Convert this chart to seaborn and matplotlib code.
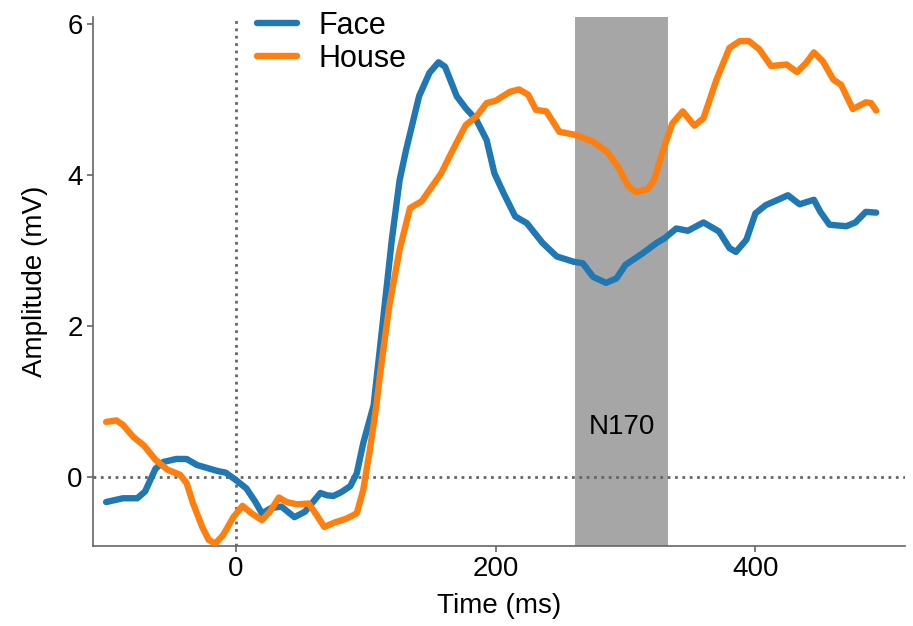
import numpy as np
import pandas as pd
import seaborn as sns
import matplotlib
matplotlib.use("Agg")
import matplotlib.pyplot as plt

# ERP values (time in ms, amplitude in mV)
face_t = [-100, -87, -76, -70, -62, -56, -46, -38, -30, -22, -14, -8, 0, 8, 15, 20, 27, 35, 45,
          53, 65, 70, 75, 81, 88, 93, 98, 106, 113, 120, 126, 131, 141, 149, 156, 161, 170, 177,
          185, 193, 199, 206, 215, 224, 236, 247, 260, 267, 275, 285, 293, 300, 313, 324, 330,
          339, 348, 360, 372, 380, 385, 393, 400, 408, 416, 425, 434, 445, 450, 457, 470, 477,
          485, 493]
face_v = [-0.33, -0.28, -0.28, -0.19, 0.11, 0.20, 0.24, 0.24, 0.16, 0.12, 0.08, 0.06, -0.04,
          -0.15, -0.33, -0.48, -0.41, -0.39, -0.53, -0.46, -0.21, -0.24, -0.25, -0.2, -0.12, 0.05,
          0.45, 0.95, 2.04, 3.14, 3.93, 4.33, 5.04, 5.35, 5.49, 5.43, 5.04, 4.88, 4.73, 4.46, 4.02,
          3.76, 3.45, 3.36, 3.10, 2.92, 2.85, 2.83, 2.65, 2.57, 2.63, 2.81, 2.96, 3.10, 3.16, 3.29,
          3.26, 3.37, 3.25, 3.03, 2.98, 3.14, 3.49, 3.60, 3.66, 3.73, 3.61, 3.67, 3.51, 3.34, 3.32,
          3.37, 3.51, 3.50]

house_t = [-100, -92, -87, -79, -71, -62, -53, -43, -38, -33, -26, -21, -16, -10, -2, 5, 12, 20,
           26, 33, 39, 47, 56, 62, 68, 76, 85, 93, 98, 103, 108, 111, 118, 126, 134, 143, 149,
           158, 167, 177, 185, 193, 200, 211, 218, 225, 231, 239, 249, 261, 275, 286, 294, 302,
           308, 317, 322, 329, 336, 344, 353, 360, 370, 380, 388, 395, 403, 412, 424, 432, 439,
           445, 452, 460, 466, 475, 485, 489, 493]
house_v = [0.73, 0.75, 0.69, 0.53, 0.42, 0.23, 0.10, 0.03, -0.08, -0.35, -0.66, -0.83, -0.88,
           -0.77, -0.53, -0.38, -0.48, -0.57, -0.46, -0.27, -0.33, -0.36, -0.35, -0.50, -0.66,
           -0.60, -0.55, -0.48, -0.17, 0.35, 0.93, 1.37, 2.26, 3.01, 3.56, 3.65, 3.80, 4.02, 4.33,
           4.66, 4.77, 4.95, 4.98, 5.10, 5.13, 5.06, 4.86, 4.84, 4.57, 4.53, 4.44, 4.30, 4.11,
           3.85, 3.77, 3.81, 3.93, 4.33, 4.68, 4.84, 4.65, 4.75, 5.26, 5.68, 5.77, 5.77, 5.66,
           5.44, 5.46, 5.36, 5.48, 5.62, 5.50, 5.26, 5.19, 4.87, 4.96, 4.95, 4.85]

conditions = ["Face", "House"]
n170_window = (261, 333)

df = pd.concat([
    pd.DataFrame({"time": face_t, "amp": face_v, "cond": "Face"}),
    pd.DataFrame({"time": house_t, "amp": house_v, "cond": "House"}),
])

sns.set_style("ticks")
plt.rcParams["font.family"] = ["Liberation Sans", "DejaVu Sans"]
plt.rcParams["text.color"] = "black"
plt.rcParams["axes.labelcolor"] = "black"
plt.rcParams["xtick.labelcolor"] = "black"
plt.rcParams["ytick.labelcolor"] = "black"

fig = plt.figure(figsize=(9.13, 6.26), dpi=100)
ax = fig.add_axes([0.102, 0.128, 0.889, 0.845])

ax.axvspan(n170_window[0], n170_window[1], color="#a6a6a6", lw=0, zorder=0)
ax.axvline(0, color="#666666", ls=":", lw=2, zorder=1)
ax.axhline(0, color="#666666", ls=":", lw=2, zorder=1)

sns.lineplot(data=df, x="time", y="amp", hue="cond", hue_order=conditions,
             palette=["#1f77b4", "#ff7f0e"], estimator=None, lw=4.6, ax=ax, zorder=3,
             solid_capstyle="round", solid_joinstyle="round")

ax.text(sum(n170_window) / 2, 0.66, "N170", ha="center", va="center", fontsize=20)

ax.set_xlim(-110, 515)
ax.set_ylim(-0.91, 6.09)
ax.set_xticks([0, 200, 400])
ax.set_yticks([0, 2, 4, 6])
ax.set_xlabel("Time (ms)", fontsize=20, labelpad=8)
ax.set_ylabel("Amplitude (mV)", fontsize=20, labelpad=14)
ax.tick_params(labelsize=20, color="#666666", length=4, width=1.2)
for s in ["left", "bottom"]:
    ax.spines[s].set_color("#666666")
    ax.spines[s].set_linewidth(1.2)
sns.despine(ax=ax)

leg = ax.legend(loc="upper left", bbox_to_anchor=(0.187, 1.035), frameon=False, fontsize=22,
                handlelength=1.3, handletextpad=0.7, labelspacing=0.1, borderaxespad=0)
for h in leg.get_lines():
    h.set_linewidth(4.6)

fig.savefig("out.png", dpi=100)
